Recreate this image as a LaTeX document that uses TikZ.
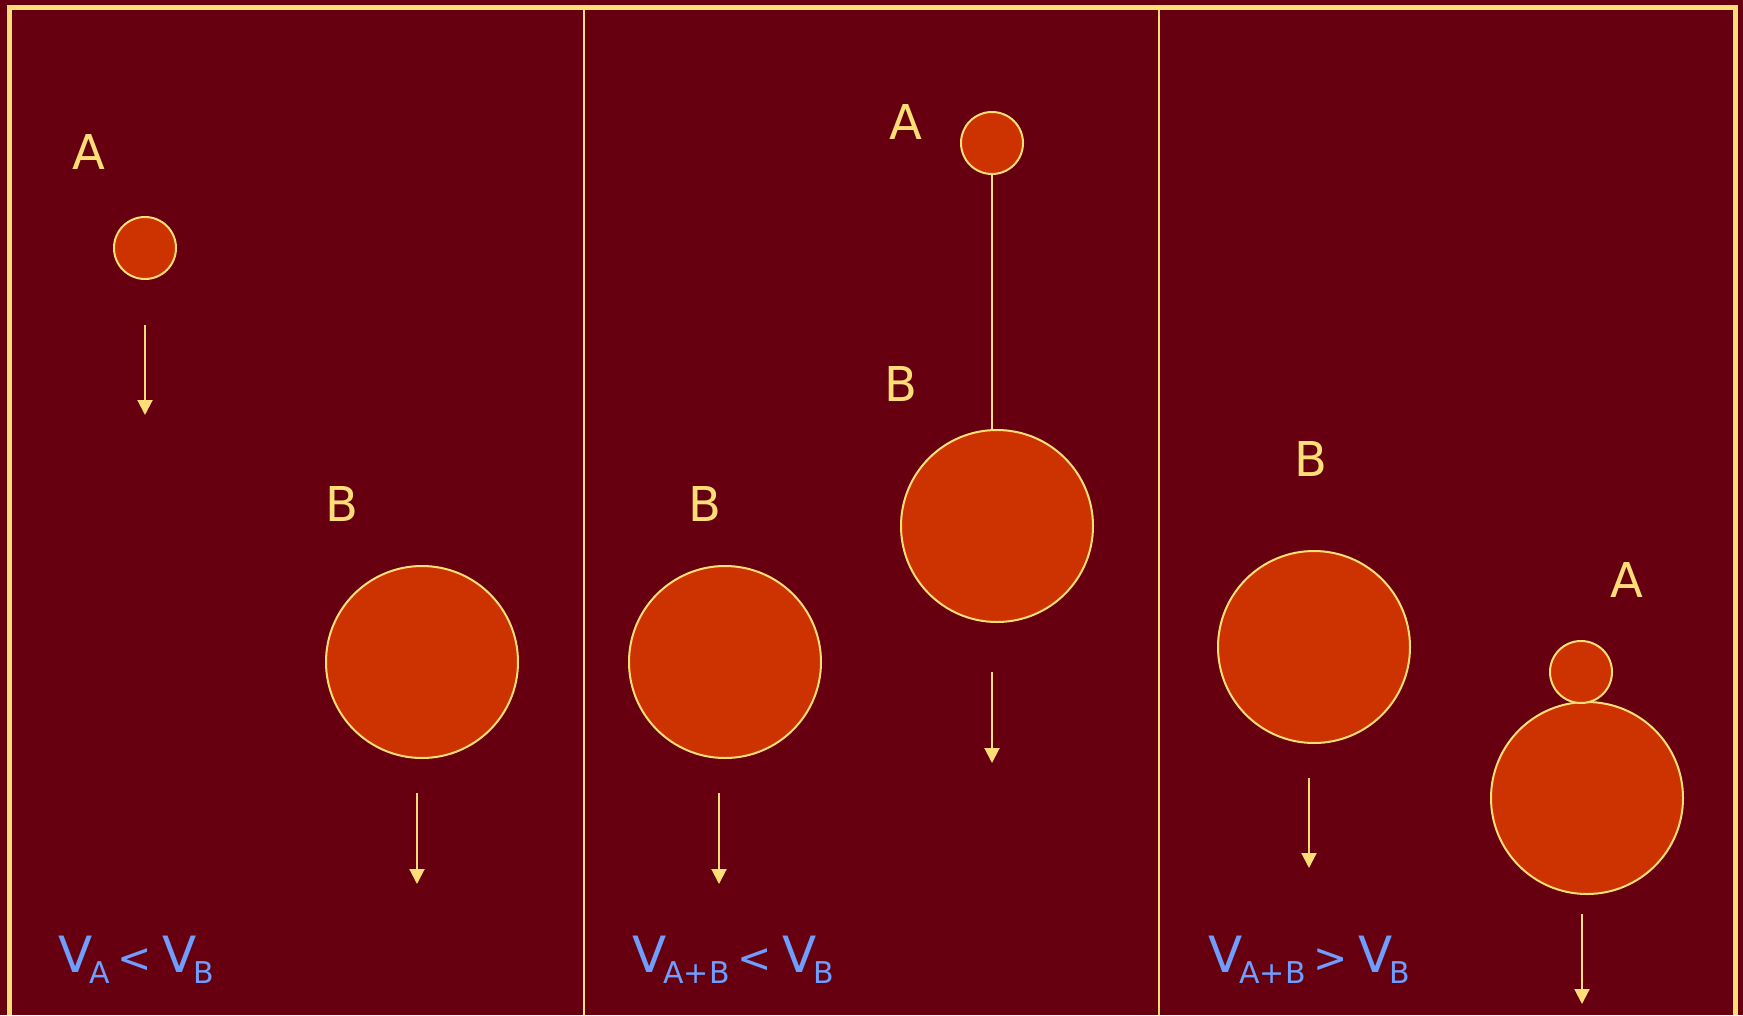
\documentclass[tikz,border=0pt]{standalone}
\usepackage{fontspec}
\setmainfont{DejaVu Sans}
\usetikzlibrary{arrows.meta,positioning}
\definecolor{wine}{RGB}{102,0,17}
\definecolor{rust}{RGB}{204,51,0}
\definecolor{sand}{RGB}{255,221,119}
\definecolor{sky}{RGB}{112,158,255}
\tikzset{
	small/.style={circle,fill=rust,draw=sand,line width=2pt,minimum size=62pt,inner sep=0pt},
	large/.style={circle,fill=rust,draw=sand,line width=2pt,minimum size=192pt,inner sep=0pt},
	tag/.style={text=sand,font=\fontsize{48}{48}\selectfont,inner sep=0pt},
	rule/.style={text=sky,font=\fontsize{50}{50}\selectfont,anchor=base west,inner sep=0pt},
	fall/.style={-{Triangle[width=15pt,length=15pt]},draw=sand,line width=2pt},
	wall/.style={draw=sand,line width=2.5pt}
}
\newcommand{\vel}[1]{V\kern-3pt\raisebox{-11pt}{\fontsize{30}{30}\selectfont #1}}
\newcommand{\rel}[1]{\hspace{8pt}{\fontsize{41}{41}\selectfont #1}\hspace{10pt}}

\begin{document}
\begin{tikzpicture}[x=1pt,y=-1pt]
	\useasboundingbox (0,0) rectangle (1743,1015);
	\fill[wine] (0,0) rectangle (1743,1015);
	% frame and panels
	\draw[sand,line width=5pt] (9.5,1015) -- (9.5,7) -- (1735,7) -- (1735,1015);
	\draw[wall] (584,9) -- (584,1015);
	\draw[wall] (1159,9) -- (1159,1015);

	% left panel: apart
	\node[small] (a1) at (145,248) {};
	\node[tag] (la1) at (89,152) {A};
	\node[large] (b1) at (422,662) {};
	\node[tag] (lb1) at (342,504) {B};
	\coordinate (a1top) at (145,325);
	\coordinate (a1bot) at (145,415);
	\coordinate (b1top) at (417,793);
	\coordinate (b1bot) at (417,884);
	\draw[fall] (a1top) -- (a1bot);
	\draw[fall] (b1top) -- (b1bot);
	\node[rule] (r1) at (58,972) {\vel{A}\rel{<}\vel{B}};

	% middle panel: tied together
	\node[large] (b2) at (725,662) {};
	\node[tag] (lb2) at (705,504) {B};
	\coordinate (b2top) at (719,793);
	\coordinate (b2bot) at (719,884);
	\draw[fall] (b2top) -- (b2bot);
	\node[small] (a3) at (992,143) {};
	\node[tag] (la3) at (906,122) {A};
	\node[large] (b3) at (997,526) {};
	\node[tag] (lb3) at (901,384) {B};
	\draw[sand,line width=2pt] (a3.south) -- (a3.south |- b3.north);
	\coordinate (b3top) at (992,672);
	\coordinate (b3bot) at (992,763);
	\draw[fall] (b3top) -- (b3bot);
	\node[rule] (r2) at (632,972) {\vel{A+B}\rel{<}\vel{B}};

	% right panel: stacked
	\node[large] (b4) at (1314,647) {};
	\node[tag] (lb4) at (1311,459) {B};
	\coordinate (b4top) at (1309,778);
	\coordinate (b4bot) at (1309,868);
	\draw[fall] (b4top) -- (b4bot);
	\node[large] (b5) at (1587,798) {};
	\node[small] (a5) at (1581,672) {};
	\node[tag] (la5) at (1627,580) {A};
	\coordinate (b5top) at (1582,914);
	\coordinate (b5bot) at (1582,1004);
	\draw[fall] (b5top) -- (b5bot);
	\node[rule] (r3) at (1208,972) {\vel{A+B}\rel{>}\vel{B}};
\end{tikzpicture}
\end{document}
